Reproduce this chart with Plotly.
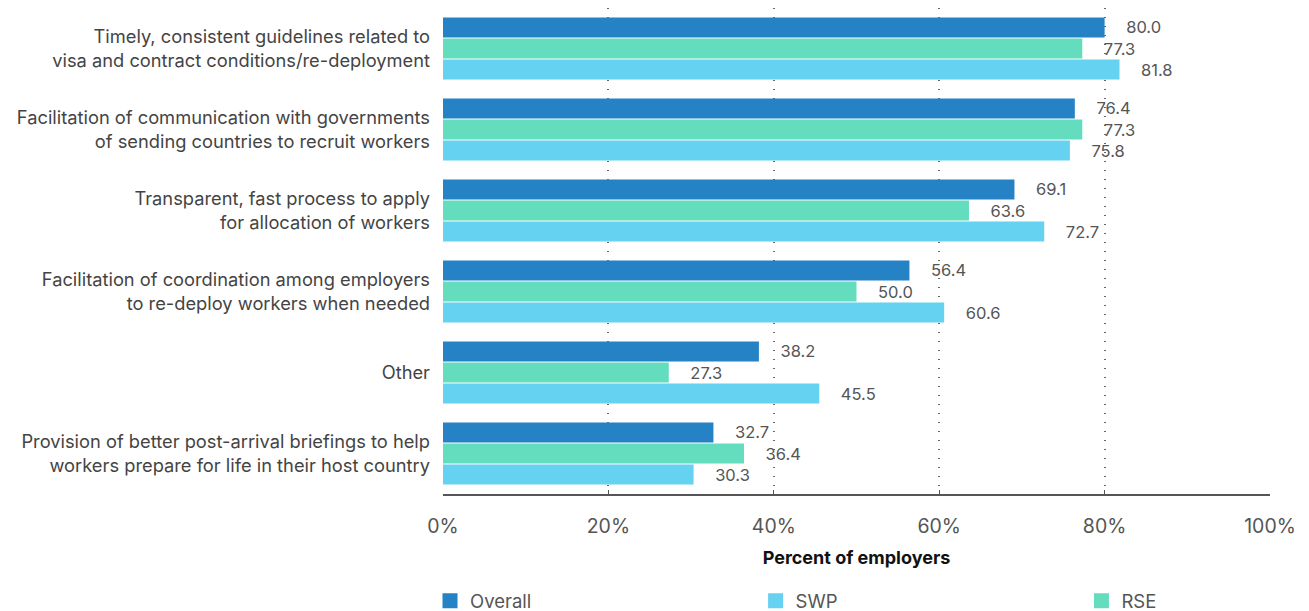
import plotly.graph_objects as go

categories = [
    "Timely, consistent guidelines related to<br>visa and contract conditions/re-deployment",
    "Facilitation of communication with governments<br>of sending countries to recruit workers",
    "Transparent, fast process to apply<br>for allocation of workers",
    "Facilitation of coordination among employers<br>to re-deploy workers when needed",
    "Other",
    "Provision of better post-arrival briefings to help<br>workers prepare for life in their host country",
]
overall = [80.0, 76.4, 69.1, 56.4, 38.2, 32.7]
rse = [77.3, 77.3, 63.6, 50.0, 27.3, 36.4]
swp = [81.8, 75.8, 72.7, 60.6, 45.5, 30.3]

tick_vals = [0, 20, 40, 60, 80, 100]
tick_text = ["0%", "20%", "40%", "60%", "80%", "100%"]

FONT = "Inter, Roboto, Arial, sans-serif"

# name, values, colour, legend id, legend x position (paper)
series = [
    ("Overall", overall, "#2482C5", "legend", -0.0157),
    ("RSE", rse, "#64DDBE", "legend3", 0.772),
    ("SWP", swp, "#64D2F0", "legend2", 0.378),
]

fig = go.Figure()
legends = {}
for name, vals, color, leg, lx in series:
    fig.add_trace(go.Bar(
        y=categories, x=vals, name=name, orientation="h",
        marker=dict(color=color, line=dict(width=0)),
        text=vals, texttemplate="    %{x:.1f}", textposition="outside",
        textfont=dict(family=FONT, size=16.5, color="#555555"),
        cliponaxis=False, showlegend=False,
    ))
    # legend-only entry with a larger square swatch
    fig.add_trace(go.Scatter(
        x=[None], y=[None], mode="markers", name=name,
        marker=dict(symbol="square", size=15, color=color),
        legend=leg, showlegend=True,
    ))
    legends[leg] = dict(
        orientation="h", x=lx, xanchor="left",
        yref="container", y=0.016, yanchor="middle",
        font=dict(family=FONT, size=18.5, color="#555555"),
        bgcolor="rgba(0,0,0,0)",
    )

fig.update_layout(
    width=1309, height=611,
    margin=dict(l=443, r=39, t=8, b=117, autoexpand=False),
    paper_bgcolor="white", plot_bgcolor="white",
    barmode="group", bargap=0.22, bargroupgap=0.05,
    font=dict(family=FONT, color="#444444"),
    showlegend=True,
    uniformtext=dict(mode=False),
    **legends,
)
fig.update_xaxes(
    range=[0, 100], tickvals=tick_vals, ticktext=tick_text,
    showgrid=True, gridcolor="#666666", griddash="1px,8px", gridwidth=1.5,
    showline=True, linecolor="#555555", linewidth=1.5,
    ticks="inside", ticklen=4, tickcolor="#555555",
    tickfont=dict(family=FONT, size=19.5, color="#555555"),
    ticklabelstandoff=14, zeroline=False,
    title=dict(text="<b>Percent of employers</b>", standoff=14,
               font=dict(family=FONT, size=18, color="#111111")),
)
fig.update_yaxes(
    autorange="reversed", showgrid=False, ticks="",
    tickfont=dict(family=FONT, size=18.3, color="#444444"),
    ticklabelstandoff=12, showline=False,
)

fig.write_html("out.html")
